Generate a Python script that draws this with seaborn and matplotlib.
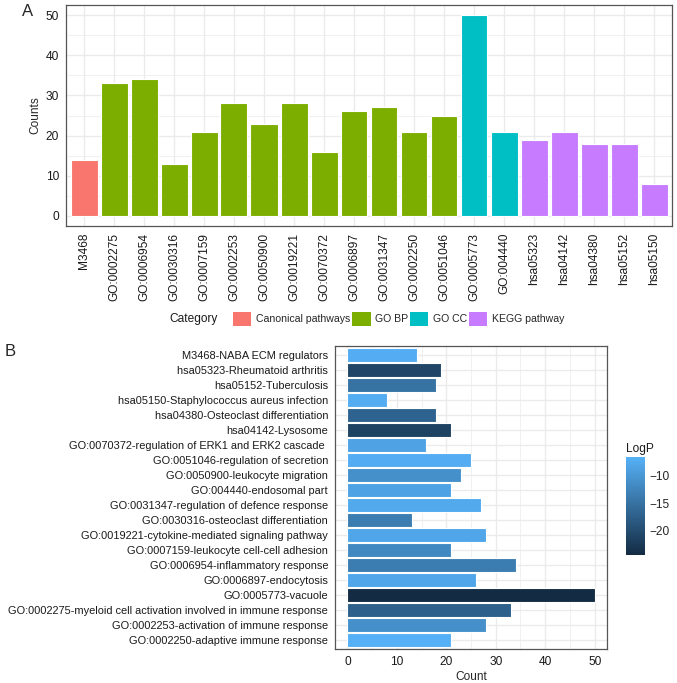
import numpy as np
import pandas as pd
import seaborn as sns
import matplotlib
matplotlib.use("Agg")
import matplotlib.pyplot as plt
from matplotlib.colors import LinearSegmentedColormap, Normalize
from matplotlib.patches import Patch
from matplotlib.ticker import MultipleLocator, FuncFormatter

# ---------- data ----------
# panel A
a_terms = ["M3468", "GO:0002275", "GO:0006954", "GO:0030316", "GO:0007159",
           "GO:0002253", "GO:0050900", "GO:0019221", "GO:0070372", "GO:0006897",
           "GO:0031347", "GO:0002250", "GO:0051046", "GO:0005773", "GO:004440",
           "hsa05323", "hsa04142", "hsa04380", "hsa05152", "hsa05150"]
a_counts = [14, 33, 34, 13, 21, 28, 23, 28, 16, 26, 27, 21, 25, 50, 21, 19, 21, 18, 18, 8]
a_category = ["Canonical pathways"] + ["GO BP"] * 12 + ["GO CC"] * 2 + ["KEGG pathway"] * 5
categories = ["Canonical pathways", "GO BP", "GO CC", "KEGG pathway"]
cat_colors = ["#F8766D", "#7CAE00", "#00BFC4", "#C77CFF"]

# panel B (top to bottom)
b_terms = ["M3468-NABA ECM regulators",
           "hsa05323-Rheumatoid arthritis",
           "hsa05152-Tuberculosis",
           "hsa05150-Staphylococcus aureus infection",
           "hsa04380-Osteoclast differentiation",
           "hsa04142-Lysosome",
           "GO:0070372-regulation of ERK1 and ERK2 cascade ",
           "GO:0051046-regulation of secretion",
           "GO:0050900-leukocyte migration",
           "GO:004440-endosomal part",
           "GO:0031347-regulation of defence response",
           "GO:0030316-osteoclast differentiation",
           "GO:0019221-cytokine-mediated signaling pathway",
           "GO:0007159-leukocyte cell-cell adhesion",
           "GO:0006954-inflammatory response",
           "GO:0006897-endocytosis",
           "GO:0005773-vacuole",
           "GO:0002275-myeloid cell activation involved in immune response",
           "GO:0002253-activation of immune response",
           "GO:0002250-adaptive immune response"]
b_counts = [14, 19, 18, 8, 18, 21, 16, 25, 23, 21, 27, 13, 28, 21, 34, 26, 50, 33, 28, 21]
b_logp = [-7.0, -21.0, -15.0, -7.2, -17.0, -21.5, -8.5, -7.0, -11.0, -8.5,
          -7.5, -13.5, -8.0, -12.0, -13.5, -8.0, -24.5, -17.5, -11.0, -6.6]

# ---------- style ----------
sns.set_style("white")
plt.rcParams["font.family"] = ["Liberation Sans", "DejaVu Sans"]
grid_c = "#EBEBEB"
frame_c = "#555555"

fig = plt.figure(figsize=(6.77, 6.83), dpi=100)
W, H = 677, 683

def box(l, t, r, b):
    return [l / W, 1 - b / H, (r - l) / W, (b - t) / H]

def style_axes(ax):
    for s in ax.spines.values():
        s.set_color(frame_c)
        s.set_linewidth(0.9)
    ax.tick_params(axis="both", length=3, width=0.7, color="#333333",
                   labelcolor="#1a1a1a", pad=2)
    ax.set_axisbelow(True)

# ---------- panel A ----------
axA = fig.add_axes(box(66, 5, 672, 226))
dfA = pd.DataFrame({"term": a_terms, "count": a_counts, "cat": a_category})
sns.barplot(data=dfA, x="term", y="count", hue="cat", hue_order=categories,
            palette=cat_colors, saturation=1, dodge=False, width=0.9,
            edgecolor="white", linewidth=0.8, legend=False, ax=axA)
axA.set_xlim(-0.6, len(a_terms) - 0.4)
axA.set_ylim(-2.5, 52.5)
axA.yaxis.set_major_locator(MultipleLocator(10))
axA.yaxis.set_minor_locator(MultipleLocator(5))
axA.grid(True, which="major", color=grid_c, linewidth=1.0)
axA.grid(True, which="minor", axis="y", color=grid_c, linewidth=0.5)
axA.set_xlabel("")
axA.set_ylabel("Counts", fontsize=8.6, labelpad=3)
style_axes(axA)
axA.tick_params(axis="x", labelrotation=90, labelsize=8.6)
axA.tick_params(axis="y", labelsize=8.6, which="major")
axA.tick_params(axis="y", which="minor", length=0)

# legend for panel A
fig.text(169 / W, 1 - 319 / H, "Category", fontsize=8.6, va="center", ha="left",
         color="#1a1a1a")
handles = [Patch(facecolor=c, edgecolor="none", label=l) for c, l in zip(cat_colors, categories)]
fig.legend(handles=handles, loc="center left", bbox_to_anchor=(233 / W, 1 - 319 / H),
           ncol=4, frameon=False, fontsize=7.6, handlelength=1.75, handleheight=1.75,
           handletextpad=0.4, columnspacing=0.2, borderaxespad=0, borderpad=0)

# ---------- panel B ----------
cmap = LinearSegmentedColormap.from_list("ggblue", ["#132B43", "#56B1F7"])
vmin, vmax = -24.6, -6.5
norm = Normalize(vmin=vmin, vmax=vmax)
bar_colors = [cmap(norm(v)) for v in b_logp]

axB = fig.add_axes(box(335, 346, 607, 649))
dfB = pd.DataFrame({"term": b_terms, "count": b_counts})
sns.barplot(data=dfB, x="count", y="term", hue="term", palette=bar_colors,
            saturation=1, dodge=False, width=0.9, edgecolor="white", linewidth=0.8,
            legend=False, orient="h", ax=axB)
axB.set_xlim(-2.5, 52.5)
axB.set_ylim(len(b_terms) - 0.4, -0.6)
axB.xaxis.set_major_locator(MultipleLocator(10))
axB.xaxis.set_minor_locator(MultipleLocator(5))
axB.grid(True, which="major", color=grid_c, linewidth=1.0)
axB.grid(True, which="minor", axis="x", color=grid_c, linewidth=0.5)
axB.set_ylabel("")
axB.set_xlabel("Count", fontsize=8.6, labelpad=2)
style_axes(axB)
axB.tick_params(axis="y", labelsize=7.9, which="major")
axB.tick_params(axis="x", labelsize=8.6, which="major")
axB.tick_params(axis="x", which="minor", length=0)

# colour bar
cax = fig.add_axes(box(626, 457, 645, 555))
sm = plt.cm.ScalarMappable(cmap=cmap, norm=norm)
cb = fig.colorbar(sm, cax=cax, ticks=[-10, -15, -20])
cb.outline.set_visible(False)
cb.ax.yaxis.set_major_formatter(FuncFormatter(lambda v, p: "\u2212%d" % abs(v)))
cb.ax.tick_params(labelsize=8.6, length=3.5, width=0.8, color="white",
                  direction="in", left=True, right=True, pad=3)
fig.text(626 / W, 1 - 449 / H, "LogP", fontsize=8.6, ha="left", va="center",
         color="#1a1a1a")

# panel letters
fig.text(22 / W, 1 - 12 / H, "A", fontsize=12, ha="left", va="center")
fig.text(5 / W, 1 - 352 / H, "B", fontsize=12, ha="left", va="center")

fig.savefig("out.png", dpi=100)
